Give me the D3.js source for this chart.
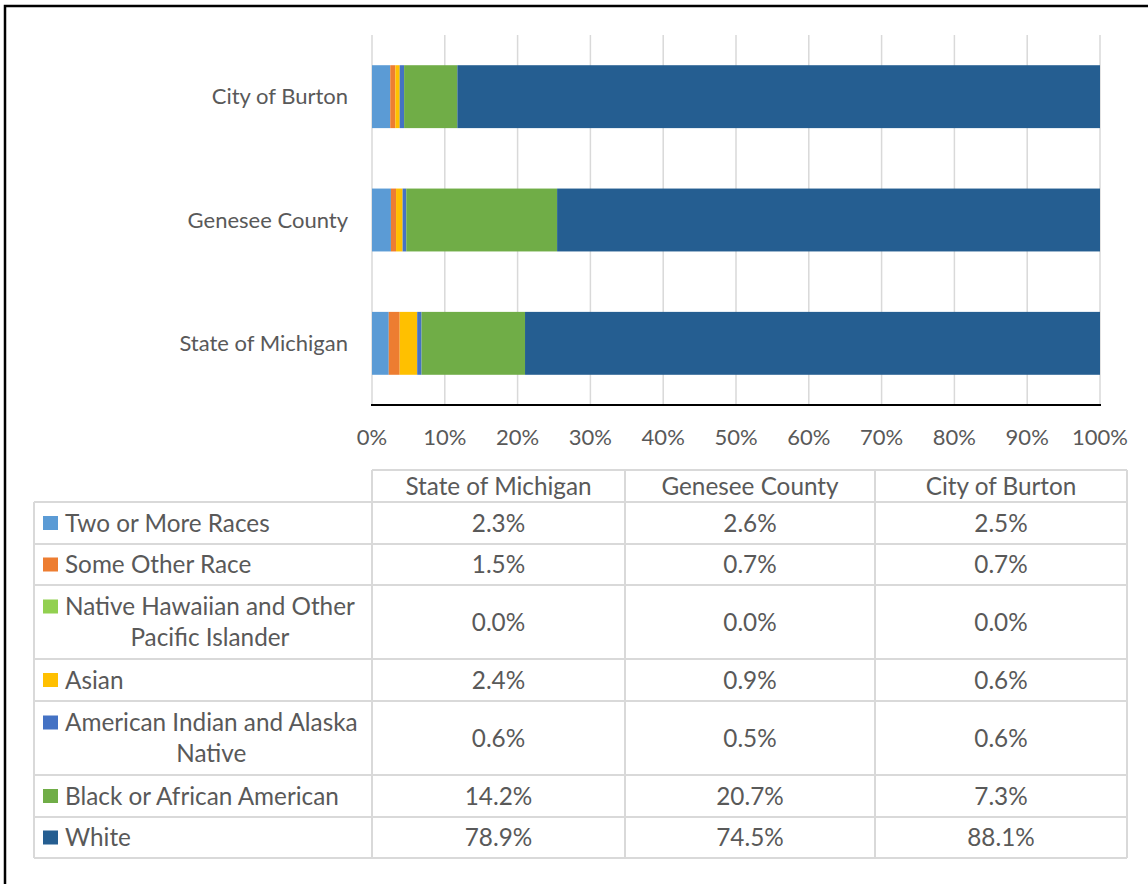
<!DOCTYPE html>
<html>
<head>
<meta charset="utf-8">
<script src="https://cdn.jsdelivr.net/npm/d3@7"></script>
<style>
  body { margin: 0; background: #fff; }
  text { font-family: Lato, "Open Sans", sans-serif; fill: #595959; }
</style>
</head>
<body>
<div id="chart"></div>
<script>
// data
var places = ["State of Michigan", "Genesee County", "City of Burton"];
var series = ["Two or More Races", "Some Other Race", "Native Hawaiian and Other Pacific Islander",
    "Asian", "American Indian and Alaska Native", "Black or African American", "White"];
var seriesLines = [["Two or More Races"], ["Some Other Race"], ["Native Hawaiian and Other", "Pacific Islander"],
    ["Asian"], ["American Indian and Alaska", "Native"], ["Black or African American"], ["White"]];
var michigan = [2.3, 1.5, 0.0, 2.4, 0.6, 14.2, 78.9];
var genesee = [2.6, 0.7, 0.0, 0.9, 0.5, 20.7, 74.5];
var burton = [2.5, 0.7, 0.0, 0.6, 0.6, 7.3, 88.1];
var values = [michigan, genesee, burton];
var colors = ["#5B9BD5", "#ED7D31", "#92D050", "#FFC000", "#4472C4", "#70AD47", "#255E91"];
var ticks = [0, 10, 20, 30, 40, 50, 60, 70, 80, 90, 100];

var width = 1148, height = 884;
var axisFont = 22;
var tableFont = 24.3;

var svg = d3.select('#chart').append('svg')
    .attr('width', width)
    .attr('height', height);

// outer frame (right and bottom edges fall outside the picture)
svg.append('rect')
    .attr('x', 5).attr('y', 6)
    .attr('width', width + 10).attr('height', height + 10)
    .attr('fill', 'none')
    .attr('stroke', '#000')
    .attr('stroke-width', 2.5);

var x = d3.scaleLinear().domain([0, 100]).range([372, 1100]);
var y = d3.scaleBand()
    .domain(places)
    .range([405, 35])
    .paddingInner(0.49)
    .paddingOuter(0.245);

// gridlines
svg.append('g').selectAll('line')
    .data(ticks)
    .enter().append('line')
    .attr('x1', function (d) { return x(d); })
    .attr('x2', function (d) { return x(d); })
    .attr('y1', 35).attr('y2', 405)
    .attr('stroke', '#d9d9d9')
    .attr('stroke-width', 1.5);

// stacked bars (100% stacked)
var rows = places.map(function (p, i) {
    var total = d3.sum(values[i]);
    var acc = 0;
    return values[i].map(function (v, j) {
        var seg = { place: p, s: j, x0: acc / total * 100, x1: (acc + v) / total * 100 };
        acc += v;
        return seg;
    });
});

svg.append('g').selectAll('g')
    .data(rows)
    .enter().append('g')
    .selectAll('rect')
    .data(function (d) { return d; })
    .enter().append('rect')
    .attr('x', function (d) { return x(d.x0); })
    .attr('width', function (d) { return x(d.x1) - x(d.x0); })
    .attr('y', function (d) { return y(d.place); })
    .attr('height', y.bandwidth())
    .attr('fill', function (d) { return colors[d.s]; });

// x axis
svg.append('line')
    .attr('x1', 371).attr('x2', 1101)
    .attr('y1', 405).attr('y2', 405)
    .attr('stroke', '#000')
    .attr('stroke-width', 2);

svg.append('g').selectAll('text')
    .data(ticks)
    .enter().append('text')
    .attr('x', function (d) { return x(d); })
    .attr('y', 437)
    .attr('dy', '0.35em')
    .attr('text-anchor', 'middle')
    .style('font-size', axisFont + 'px')
    .text(function (d) { return d + '%'; });

// category labels
svg.append('g').selectAll('text')
    .data(places)
    .enter().append('text')
    .attr('x', 348)
    .attr('y', function (d) { return y(d) + y.bandwidth() / 2; })
    .attr('dy', '0.35em')
    .attr('text-anchor', 'end')
    .style('font-size', axisFont + 'px')
    .text(function (d) { return d; });

// data table
var colX = [372, 625, 875, 1127];
var rowY = [502, 544, 585, 659, 701, 775, 817, 858];
var gridColor = '#d9d9d9';
var table = svg.append('g');

table.append('line').attr('x1', 372).attr('x2', 1127).attr('y1', 470).attr('y2', 470);
rowY.forEach(function (yy) {
    table.append('line').attr('x1', 34).attr('x2', 1127).attr('y1', yy).attr('y2', yy);
});
table.append('line').attr('x1', 34).attr('x2', 34).attr('y1', 502).attr('y2', 858);
colX.forEach(function (xx) {
    table.append('line').attr('x1', xx).attr('x2', xx).attr('y1', 470).attr('y2', 858);
});
table.selectAll('line').attr('stroke', gridColor).attr('stroke-width', 2);

table.selectAll('.head')
    .data(places)
    .enter().append('text')
    .attr('class', 'head')
    .attr('x', function (d, i) { return (colX[i] + colX[i + 1]) / 2; })
    .attr('y', 486)
    .attr('dy', '0.35em')
    .attr('text-anchor', 'middle')
    .style('font-size', tableFont + 'px')
    .text(function (d) { return d; });

series.forEach(function (s, j) {
    var top = rowY[j], bottom = rowY[j + 1];
    var mid = (top + bottom) / 2;
    var lines = seriesLines[j];
    var lineH = 31;
    var firstY = mid - (lines.length - 1) * lineH / 2;

    table.append('rect')
        .attr('x', 43).attr('y', firstY - 7)
        .attr('width', 15).attr('height', 14)
        .attr('fill', colors[j]);

    var first = table.append('text')
        .attr('x', 65)
        .attr('y', firstY)
        .attr('dy', '0.35em')
        .style('font-size', tableFont + 'px')
        .text(lines[0]);
    var firstW = first.node().getComputedTextLength();
    for (var k = 1; k < lines.length; k++) {
        table.append('text')
            .attr('x', 65 + firstW / 2)
            .attr('y', firstY + k * lineH)
            .attr('dy', '0.35em')
            .attr('text-anchor', 'middle')
            .style('font-size', tableFont + 'px')
            .text(lines[k]);
    }

    values.forEach(function (vals, i) {
        table.append('text')
            .attr('x', (colX[i] + colX[i + 1]) / 2)
            .attr('y', mid)
            .attr('dy', '0.35em')
            .attr('text-anchor', 'middle')
            .style('font-size', tableFont + 'px')
            .text(vals[j].toFixed(1) + '%');
    });
});
</script>
</body>
</html>
